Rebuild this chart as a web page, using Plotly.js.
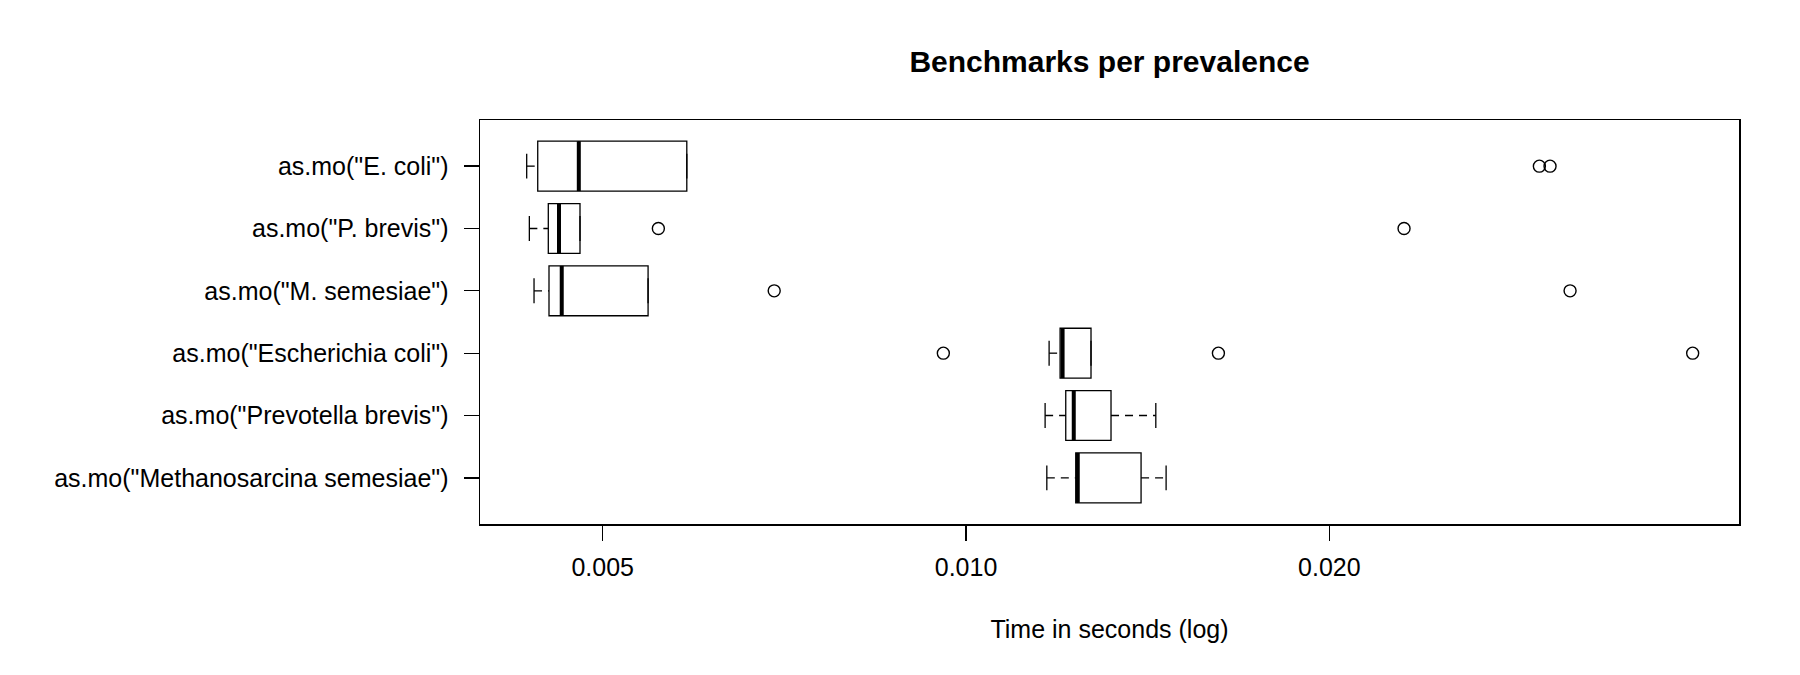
<!DOCTYPE html>
<html>
<head>
<meta charset="utf-8">
<script src="https://cdn.plot.ly/plotly-3.0.1.min.js"></script>
<style>
  html, body { margin: 0; padding: 0; background: #fff; }
  #chart { width: 1800px; height: 675px; }
</style>
</head>
<body>
<div id="chart"></div>
<script>
// Group labels, listed from top row to bottom row
const categories = [
  'as.mo("E. coli")',
  'as.mo("P. brevis")',
  'as.mo("M. semesiae")',
  'as.mo("Escherichia coli")',
  'as.mo("Prevotella brevis")',
  'as.mo("Methanosarcina semesiae")'
];
// Box statistics (seconds), same order as categories
const lowerWhisker = [0.004325, 0.004347, 0.004386, 0.011717, 0.011628, 0.011666];
const q1Values     = [0.004417, 0.004507, 0.004513, 0.011965, 0.012095, 0.012328];
const medianValues = [0.004777, 0.004600, 0.004624, 0.012022, 0.012281, 0.012375];
const q3Values     = [0.005870, 0.004788, 0.005452, 0.012692, 0.013186, 0.013964];
const upperWhisker = [0.005870, 0.004788, 0.005452, 0.012692, 0.014362, 0.014647];
// Outliers: index of group and value
const outlierGroup = [0, 0, 1, 1, 2, 2, 3, 3, 3];
const outlierValue = [0.029854, 0.030468, 0.005560, 0.023061, 0.006935, 0.031655, 0.009576, 0.016184, 0.039996];
// Axis ticks
const xTickValues = [0.005, 0.010, 0.020];
const xTickLabels = ['0.005', '0.010', '0.020'];

const n = categories.length;
const pos = categories.map((c, i) => n - i);   // R: first group at bottom
const BOXW = 0.8, STAPLE = 0.2, HALF = BOXW / 2;
const black = '#000000';
const lw = 1.3;

const boxTrace = {
  type: 'box', orientation: 'h',
  y: pos, q1: q1Values, median: medianValues, q3: q3Values,
  lowerfence: q1Values, upperfence: q3Values,
  width: BOXW, whiskerwidth: 0,
  fillcolor: '#ffffff', line: { color: black, width: lw },
  boxpoints: false, hoverinfo: 'skip', showlegend: false
};

const wx = [], wy = [];
for (let i = 0; i < n; i++) {
  wx.push(lowerWhisker[i], q1Values[i], null, q3Values[i], upperWhisker[i], null);
  wy.push(pos[i], pos[i], null, pos[i], pos[i], null);
}
const whiskerTrace = {
  type: 'scatter', mode: 'lines', x: wx, y: wy,
  line: { color: black, width: lw, dash: '8px,6px' },
  hoverinfo: 'skip', showlegend: false
};

const sx = [], sy = [];
for (let i = 0; i < n; i++) {
  sx.push(lowerWhisker[i], lowerWhisker[i], null, upperWhisker[i], upperWhisker[i], null);
  sy.push(pos[i] - STAPLE, pos[i] + STAPLE, null, pos[i] - STAPLE, pos[i] + STAPLE, null);
}
const stapleTrace = {
  type: 'scatter', mode: 'lines', x: sx, y: sy,
  line: { color: black, width: lw },
  hoverinfo: 'skip', showlegend: false
};

const mx = [], my = [];
for (let i = 0; i < n; i++) {
  mx.push(medianValues[i], medianValues[i], null);
  my.push(pos[i] - HALF, pos[i] + HALF, null);
}
const medianTrace = {
  type: 'scatter', mode: 'lines', x: mx, y: my,
  line: { color: black, width: 4 },
  hoverinfo: 'skip', showlegend: false
};

const outlierTrace = {
  type: 'scatter', mode: 'markers',
  x: outlierValue, y: outlierGroup.map(g => pos[g]),
  marker: { symbol: 'circle-open', size: 12, color: black, line: { width: 1.4, color: black } },
  hoverinfo: 'skip', showlegend: false
};

const fontFam = '"Liberation Sans", Arial, Helvetica, sans-serif';

const layout = {
  width: 1800, height: 675,
  paper_bgcolor: '#ffffff', plot_bgcolor: '#ffffff',
  margin: { l: 480, r: 61, t: 120, b: 151, pad: 0 },
  font: { family: fontFam, size: 25, color: black },
  showlegend: false,
  title: {
    text: '<b>Benchmarks per prevalence</b>',
    font: { family: fontFam, size: 30, color: black },
    x: 0.5, xref: 'paper', xanchor: 'center',
    y: 1 - 61 / 675, yref: 'container', yanchor: 'middle'
  },
  xaxis: {
    type: 'log',
    range: [-2.4027, -1.3596],
    tickvals: xTickValues, ticktext: xTickLabels,
    ticks: 'outside', ticklen: 15, tickwidth: lw, tickcolor: black,
    tickfont: { family: fontFam, size: 25, color: black },
    ticklabelstandoff: 5,
    showline: true, mirror: true, linecolor: black, linewidth: 1.5,
    showgrid: false, zeroline: false,
    title: { text: 'Time in seconds (log)', font: { family: fontFam, size: 25, color: black }, standoff: 41 },
    automargin: false
  },
  yaxis: {
    range: [0.26, 6.74],
    tickvals: pos, ticktext: categories,
    ticks: 'outside', ticklen: 15, tickwidth: lw, tickcolor: black,
    tickfont: { family: fontFam, size: 25, color: black },
    ticklabelstandoff: 10,
    showline: true, mirror: true, linecolor: black, linewidth: 1.5,
    showgrid: false, zeroline: false,
    automargin: false
  }
};

Plotly.newPlot('chart', [boxTrace, whiskerTrace, stapleTrace, medianTrace, outlierTrace], layout,
  { staticPlot: true, displayModeBar: false });
</script>
</body>
</html>
